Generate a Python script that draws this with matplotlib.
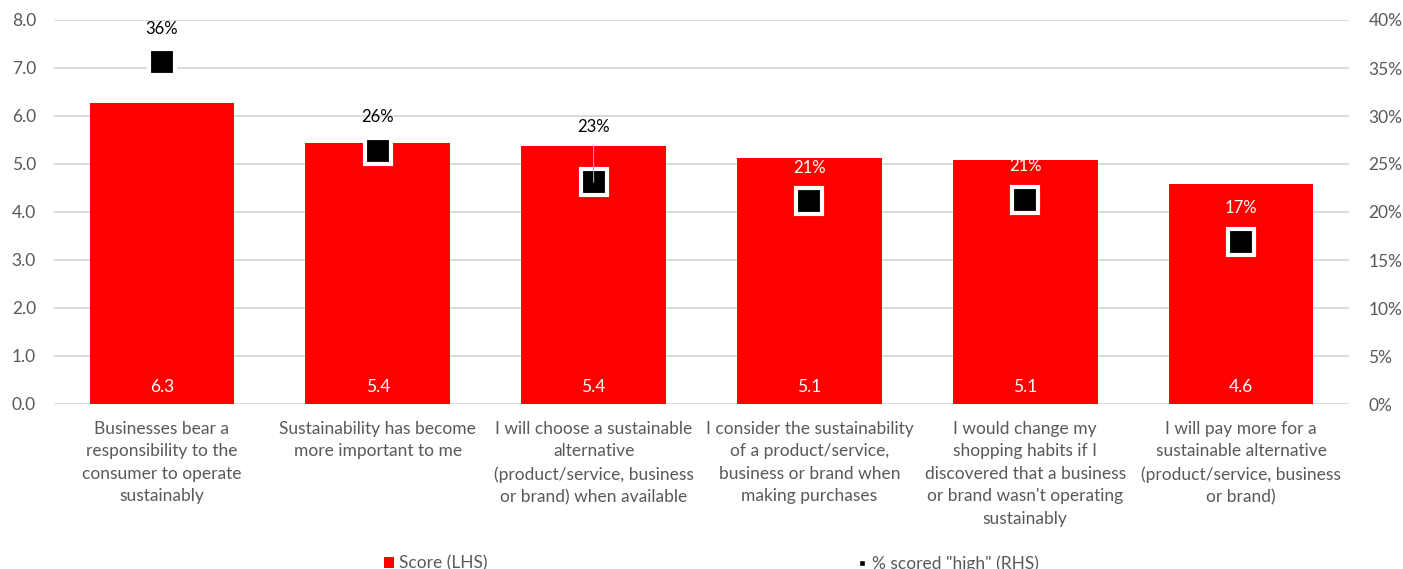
import matplotlib
matplotlib.use("Agg")
import matplotlib.pyplot as plt
import numpy as np
from matplotlib.lines import Line2D
from matplotlib.patches import Patch

plt.rcParams['font.family'] = ['Lato', 'DejaVu Sans']

categories = [
    "Businesses bear a\nresponsibility to the\nconsumer to operate\nsustainably",
    "Sustainability has become\nmore important to me",
    "I will choose a sustainable\nalternative\n(product/service, business\nor brand) when available",
    "I consider the sustainability\nof a product/service,\nbusiness or brand when\nmaking purchases",
    "I would change my\nshopping habits if I\ndiscovered that a business\nor brand wasn't operating\nsustainably",
    "I will pay more for a\nsustainable alternative\n(product/service, business\nor brand)",
]
scores = [6.27, 5.43, 5.37, 5.13, 5.08, 4.59]
pct_high = [0.356, 0.264, 0.231, 0.211, 0.213, 0.169]
left_ticks = [0, 1, 2, 3, 4, 5, 6, 7, 8]
right_ticks = [0, 0.05, 0.10, 0.15, 0.20, 0.25, 0.30, 0.35, 0.40]

RED = "#FF0000"
GRAY_TXT = "#595959"
GRID = "#D9D9D9"

fig = plt.figure(figsize=(14.03, 5.69), dpi=100)
ax = fig.add_axes([54/1403, 1-404/569, (1349-54)/1403, (404-20)/569])
x = np.arange(len(categories))

ax.bar(x, scores, width=0.67, color=RED, zorder=2)
ax.set_ylim(0, 8)
ax.set_xlim(-0.5, len(categories)-0.5)
ax.set_yticks(left_ticks)
ax.set_yticklabels([f"{v:.1f}" for v in left_ticks])
ax.yaxis.grid(True, color=GRID, lw=1.3, zorder=0)
ax.set_axisbelow(True)
for s in ax.spines.values():
    s.set_visible(False)
ax.tick_params(axis='both', length=0, colors=GRAY_TXT, labelsize=12.5)
ax.tick_params(axis='y', pad=13)
ax.set_xticks(x)
ax.set_xticklabels(categories, fontsize=12.5, color=GRAY_TXT, linespacing=1.5)
ax.tick_params(axis='x', pad=12)

for xi, v in zip(x, scores):
    ax.text(xi, 0.35, f"{v:.1f}", color="white", ha="center", va="center", fontsize=12.5, zorder=5)

ax2 = ax.twinx()
ax2.set_ylim(0, 0.4)
ax2.set_yticks(right_ticks)
ax2.set_yticklabels([f"{int(round(t*100))}%" for t in right_ticks])
for s in ax2.spines.values():
    s.set_visible(False)
ax2.tick_params(axis='y', length=0, colors=GRAY_TXT, labelsize=12.5, pad=14)
ax2.plot(x, pct_high, ls='none', marker='s', ms=19, mfc='black', mec='white', mew=3, zorder=4)

for i, (xi, p) in enumerate(zip(x, pct_high)):
    off = 40 if i == 2 else 24
    label_units = p * 20 + off / 72 * 100 / 48
    col = "white" if label_units < scores[i] else "black"
    if i == 2:
        ax2.annotate(f"{p*100:.0f}%", xy=(xi, p), xytext=(0, off), textcoords='offset points',
                     ha='center', va='center', fontsize=12, color=col, zorder=6,
                     arrowprops=dict(arrowstyle='-', color='#A6A6A6', lw=0.8, shrinkA=6, shrinkB=0))
    else:
        ax2.annotate(f"{p*100:.0f}%", xy=(xi, p), xytext=(0, off), textcoords='offset points',
                     ha='center', va='center', fontsize=12, color=col, zorder=6)

handles = [Patch(facecolor=RED, edgecolor='none'),
           Line2D([], [], ls='none', marker='s', ms=5, mfc='black', mec='white')]
fig.legend(handles, ["Score (LHS)", '% scored "high" (RHS)'], loc='center', bbox_to_anchor=(0.507, 0.01),
           ncol=2, frameon=False, fontsize=12.5, labelcolor=GRAY_TXT, columnspacing=21.3,
           handlelength=0.6, handleheight=0.6, handletextpad=0.25)

fig.savefig("out.png", dpi=100)
